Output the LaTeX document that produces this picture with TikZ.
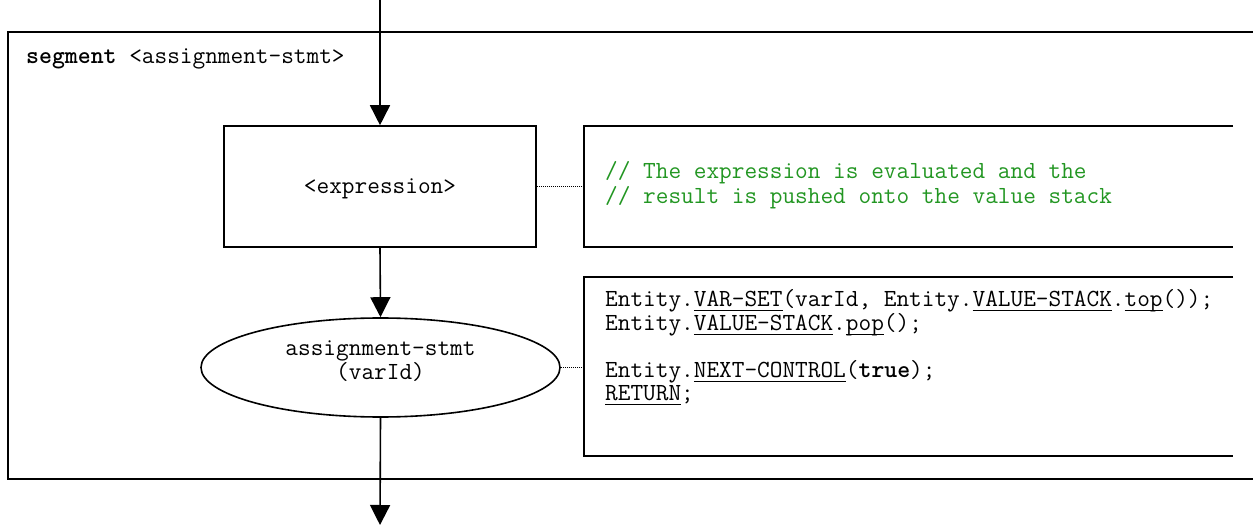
\documentclass[tikz,border=0pt]{standalone}
\usepackage{fontspec}
\usetikzlibrary{arrows.meta,shapes.geometric}
\definecolor{cmtgreen}{RGB}{34,150,34}
\newcommand\myuline[1]{\setbox0\hbox{#1}\rlap{\rule[-4.5pt]{\wd0}{1.4pt}}\box0}
\tikzset{
  lw/.style={line width=1.6pt},
  boxnode/.style={draw, lw, rectangle, inner sep=0pt},
  area/.style={rectangle, inner sep=0pt},
  arr/.style={lw, -{Triangle[length=20pt,width=20pt]}},
  dotline/.style={line width=0.9pt, dash pattern=on 1pt off 1pt},
  txt/.style={anchor=base west, inner sep=0pt, text height=14pt, text depth=4pt},
  ctxt/.style={anchor=base, inner sep=0pt, text height=14pt, text depth=4pt},
}
\begin{document}
\begin{tikzpicture}[x=1pt,y=-1pt,font=\ttfamily\fontsize{24.6}{23.5}\selectfont]
\useasboundingbox (0,0) rectangle (1253,526);
% frame
\node[area, minimum width=1245pt, minimum height=447pt] (frame) at (630.5,255.5) {};
\draw[lw] (frame.north east) -- (frame.north west) -- (frame.south west) -- (frame.south east);
\node[txt] (seglabel) at (26,63.5) {\textbf{segment} <assignment-stmt>};
% expression box
\node[boxnode, minimum width=312pt, minimum height=121pt] (expr) at (380,186.5) {};
\node[ctxt] (exprtext) at (380,193.5) {<expression>};
% comment box
\node[area, minimum width=649pt, minimum height=121pt] (cmt) at (908.5,186.5) {};
\draw[lw] (cmt.north east) -- (cmt.north west) -- (cmt.south west) -- (cmt.south east);
\node[txt, text=cmtgreen] (cmt1) at (605,179) {// The expression is evaluated and the};
\node[txt, text=cmtgreen] (cmt2) at (605,203.5) {// result is pushed onto the value stack};
% activity ellipse
\node[ellipse, draw, lw, inner sep=0pt, minimum width=359pt, minimum height=99pt] (act) at (380.5,367.5) {};
\node[ctxt] (act1) at (380.5,355.5) {assignment-stmt};
\node[ctxt] (act2) at (380.5,380) {(varId)};
% code box
\node[area, minimum width=649pt, minimum height=179pt] (code) at (908.5,366.5) {};
\draw[lw] (code.north east) -- (code.north west) -- (code.south west) -- (code.south east);
\node[txt] (code1) at (605,307) {Entity.\myuline{VAR-SET}(varId, Entity.\myuline{VALUE-STACK}.\myuline{top}());};
\node[txt] (code2) at (605,330.5) {Entity.\myuline{VALUE-STACK}.\myuline{pop}();};
\node[txt] (code4) at (605,377.5) {Entity.\myuline{NEXT-CONTROL}(\textbf{true});};
\node[txt] (code5) at (605,401) {\myuline{RETURN};};
% connectors
\coordinate (in) at (380,0);
\coordinate (out) at (380,525);
\draw[arr] (in) -- (expr.north);
\draw[arr] (expr.south) -- (act.north);
\draw[arr] (act.south) -- (out);
\draw[dotline] (expr.east) -- (cmt.west);
\draw[dotline] (act.east) -- (act.east -| code.west);
\end{tikzpicture}
\end{document}
